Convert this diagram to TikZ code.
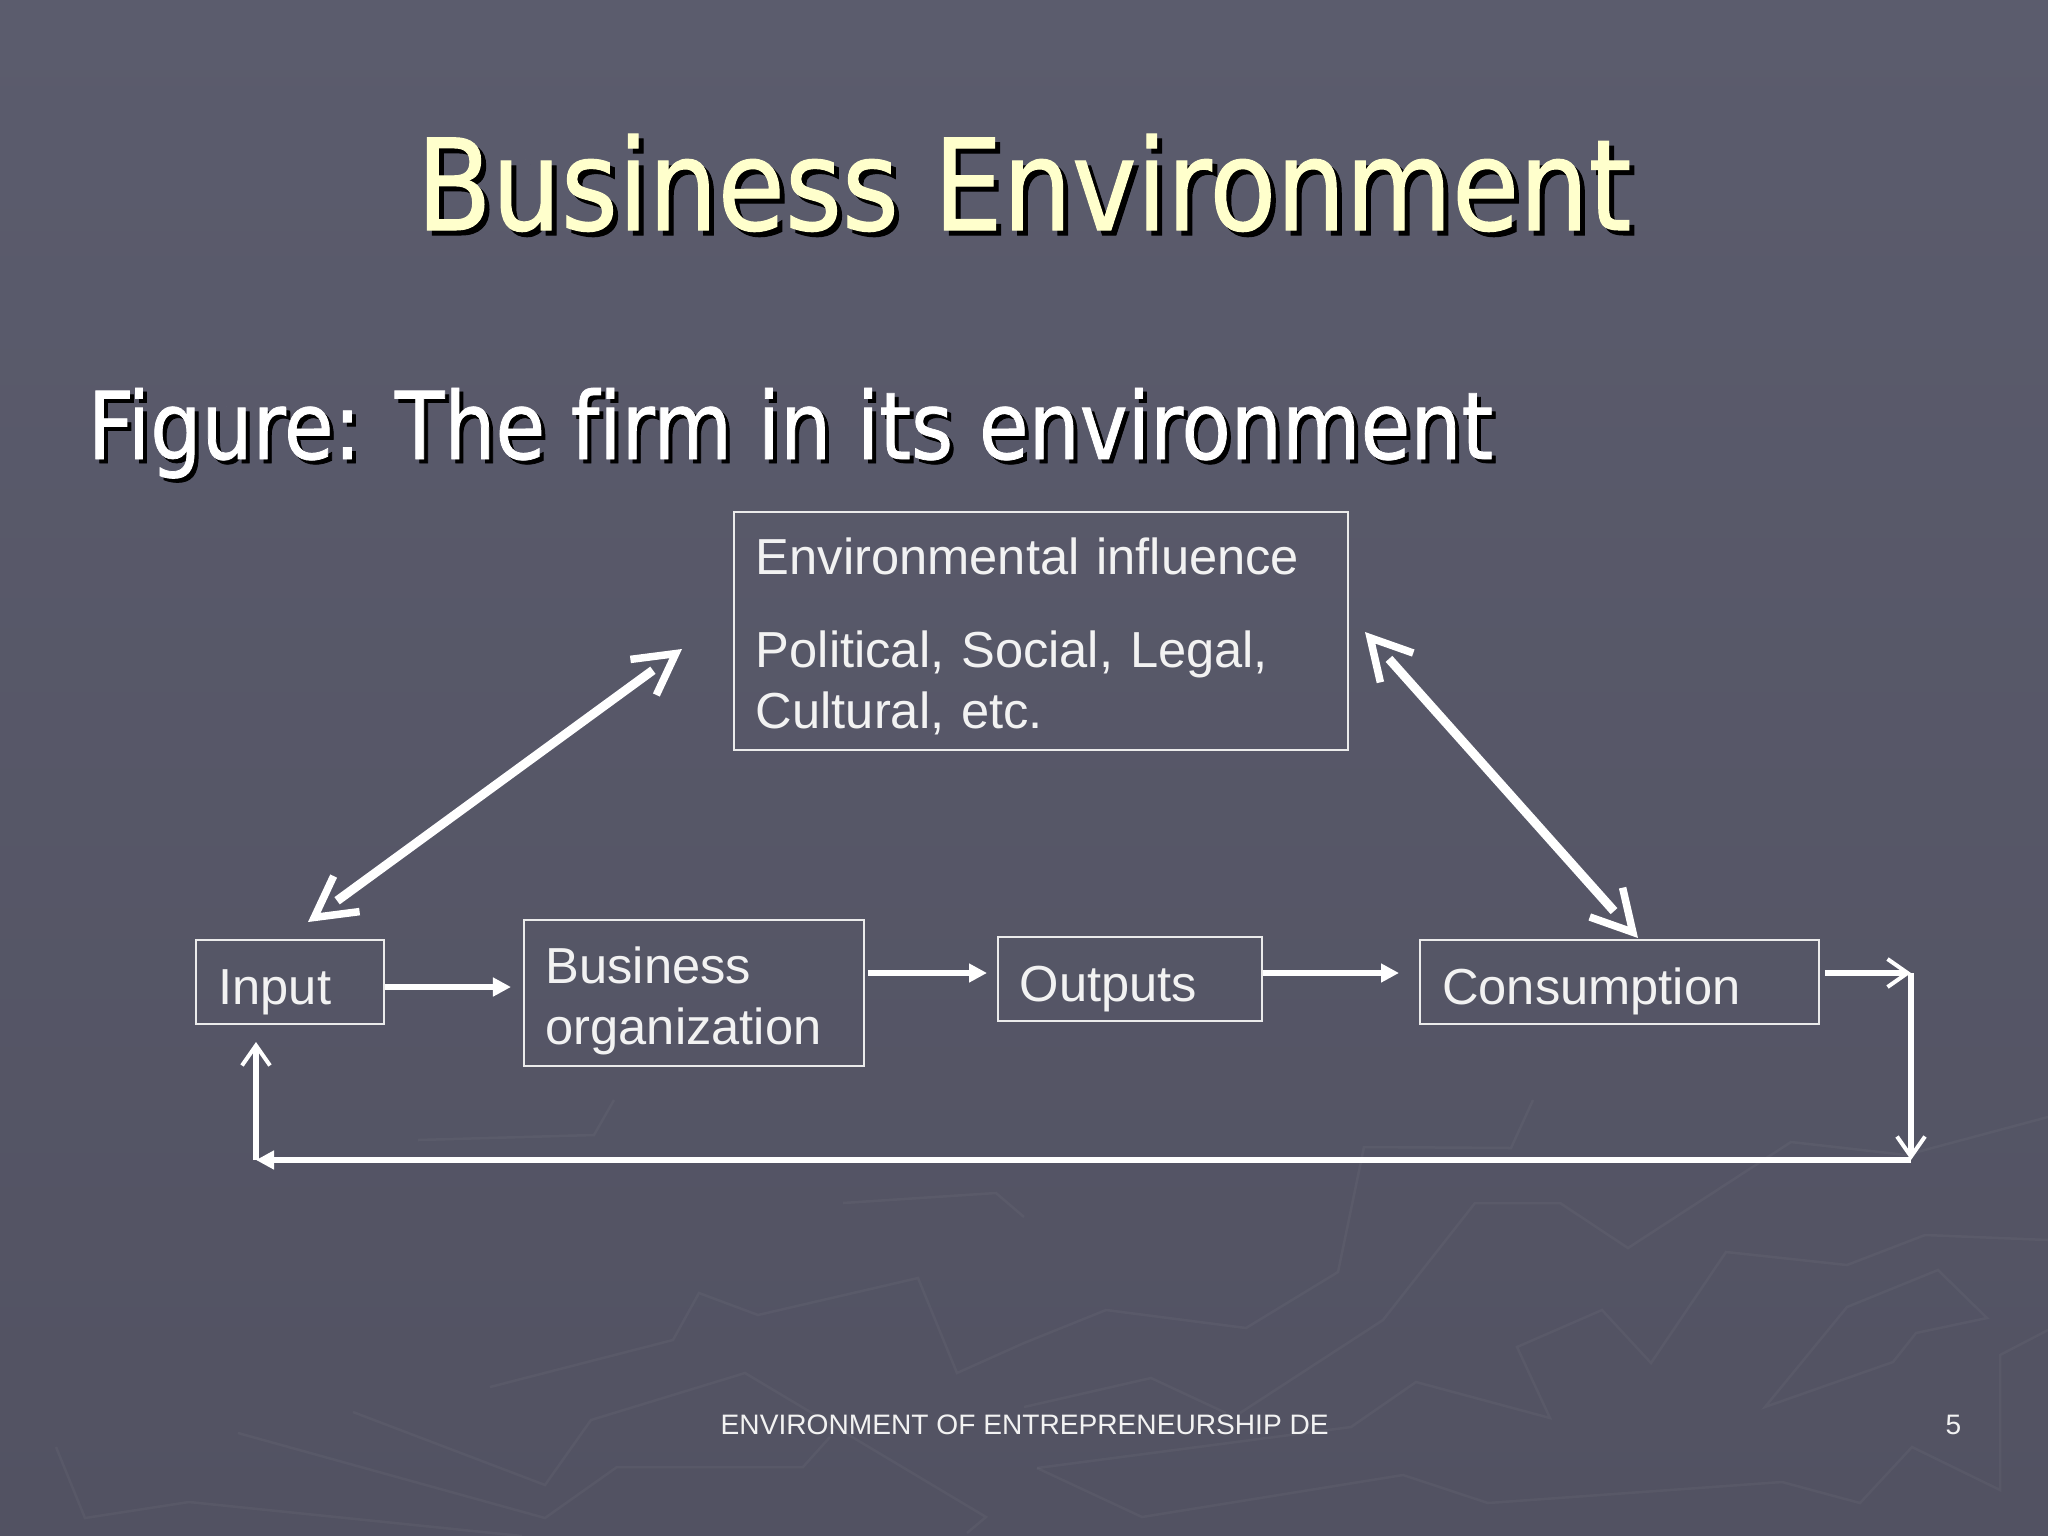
\documentclass[tikz,border=0pt]{standalone}
\usepackage{fontspec}
\setmainfont{Liberation Sans}
\newfontfamily\headfont[FakeStretch=0.96,FakeBold=0.8,Ligatures=NoCommon]{DejaVu Sans Condensed}
\usepackage{xcolor}
\usetikzlibrary{arrows.meta}
\usetikzlibrary{positioning}
\definecolor{slidetop}{HTML}{5B5C6D}
\definecolor{slidelow}{HTML}{525262}
\definecolor{titleyellow}{HTML}{FFFFCC}

\begin{document}
\begin{tikzpicture}[x=0.01cm,y=-0.01cm]
\tikzset{blockbox/.style={rectangle,draw=white!92!black,line width=0.02cm,text=white!95!black,font=\fontsize{14.4}{17.4}\selectfont,align=left,inner sep=0pt},
textdrop/.style={execute at begin node={\rule{0pt}{#1}}},
headtext/.style={anchor=base west,inner sep=0pt,font=\headfont\fontsize{36}{40}\selectfont},
subtext/.style={anchor=base west,inner sep=0pt,font=\headfont\fontsize{26.6}{30}\selectfont},
foottext/.style={anchor=base west,inner sep=0pt,text=white!95!black,font=\fontsize{8}{10}\selectfont},
thinflow/.style={white,line width=0.055cm,-{Triangle[length=0.18cm,width=0.18cm]}},
wideflow/.style={white,line width=0.09cm,shorten <=0.36cm,shorten >=0.36cm,postaction={draw,shorten <=0cm,shorten >=0cm,dash pattern=on 0pt off 9000pt,{Straight Barb[length=0.4cm,width=0.44cm,line width=0.075cm]}-{Straight Barb[length=0.4cm,width=0.44cm,line width=0.075cm]}}},
openflow/.style={white,line width=0.055cm,-{Straight Barb[length=0.2cm,width=0.28cm,line width=0.04cm]}},
faintline/.style={white,opacity=0.035,line width=0.025cm}}
\shade[top color=slidetop,bottom color=slidelow,draw=none] (0,0) rectangle (2048,1536);
\useasboundingbox (0,0) rectangle (2048,1536);
% faint backdrop
\draw[faintline] (56,1447) -- (85,1518) -- (189,1502) -- (522,1536);
\draw[faintline] (238,1433) -- (545,1518) -- (617,1467) -- (803,1467) -- (830,1437);
\draw[faintline] (353,1412) -- (545,1485) -- (591,1420) -- (745,1373) -- (986,1517) -- (967,1533);
\draw[faintline] (490,1387) -- (673,1340) -- (699,1293) -- (758,1315) -- (918,1278) -- (957,1373) -- (1024,1343) -- (1106,1310) -- (1246,1328) -- (1338,1272) -- (1364,1147) -- (1511,1148) -- (1533,1100);
\draw[faintline] (843,1203) -- (996,1193) -- (1024,1217);
\draw[faintline] (418,1140) -- (594,1135) -- (614,1100);
\draw[faintline] (1037,1468) -- (1142,1517) -- (1403,1475) -- (1488,1503) -- (1782,1482) -- (1860,1503) -- (1912,1447) -- (2000,1490) -- (2000,1355) -- (2048,1330);
\draw[faintline] (1037,1468) -- (1351,1427) -- (1416,1382) -- (1550,1418) -- (1517,1347) -- (1602,1310) -- (1651,1363) -- (1726,1252) -- (1847,1265) -- (1925,1235) -- (2048,1240);
\draw[faintline] (1240,1413) -- (1383,1320) -- (1475,1203) -- (1560,1203) -- (1628,1248) -- (1791,1142) -- (1906,1155) -- (2048,1117);
\draw[faintline] (1765,1407) -- (1847,1307) -- (1938,1270) -- (1987,1318) -- (1916,1333) -- (1893,1362) -- cycle;
\draw[faintline] (1024,1407) -- (1151,1378) -- (1226,1413);
\node[headtext,black](headshadow) at (421,235){Business Environment};
\node[headtext,text=titleyellow](head) at (416,230){Business Environment};
\node[subtext,black](subshadow) at (91,463){Figure: The firm in its environment};
\node[subtext,white](sub) at (87,459){Figure: The firm in its environment};
\node[blockbox,textdrop=0.47cm,minimum width=6.14cm,minimum height=2.38cm,text width=5.7cm](env) at (1041,631){Environmental influence\\[9pt]Political, Social, Legal,\\Cultural, etc.};
\node[blockbox,textdrop=0.55cm,minimum width=1.87cm,minimum height=0.83cm,text width=1.43cm](input) at (290,982){Input};
\node[blockbox,textdrop=0.53cm,minimum width=3.4cm,minimum height=1.45cm,text width=2.96cm](org)[right=1.38cm of input,yshift=-0.11cm]{Business\\organization};
\node[blockbox,textdrop=0.55cm,minimum width=2.64cm,minimum height=0.83cm,text width=2.2cm](out)[right=1.32cm of org,yshift=0.14cm]{Outputs};
\node[blockbox,textdrop=0.55cm,minimum width=3.99cm,minimum height=0.83cm,text width=3.55cm](cons)[right=1.56cm of out,yshift=-0.03cm]{Consumption};
\node[foottext](foot) at (720,1434){ENVIRONMENT OF ENTREPRENEURSHIP DE};
\node[foottext](page) at (1945,1434){5};
\coordinate(envleft) at (682,649);
\coordinate(inputtop) at (308,922);
\coordinate(envright) at (1365,632);
\coordinate(constop) at (1638,938);
\coordinate(orgin) at (511,987);
\coordinate(outin) at (987,973);
\coordinate(consin) at (1399,973);
\coordinate(corner) at (1911,973);
\coordinate(lowright) at (1911,1160);
\coordinate(lowleft) at (256,1160);
\coordinate(inputlow) at (256,1042);
\draw[wideflow](envleft) -- (inputtop);
\draw[wideflow](envright) -- (constop);
\draw[thinflow](input.east |- orgin) -- (orgin);
\draw[thinflow]([xshift=0.03cm]org.east |- outin) -- (outin);
\draw[thinflow](out.east |- consin) -- (consin);
\draw[openflow]([xshift=0.05cm]cons.east |- corner) -- (corner);
\draw[openflow](corner) -- (lowright);
\draw[thinflow](lowright) -- (lowleft);
\draw[openflow](lowleft) -- (inputlow);
\end{tikzpicture}
\end{document}
